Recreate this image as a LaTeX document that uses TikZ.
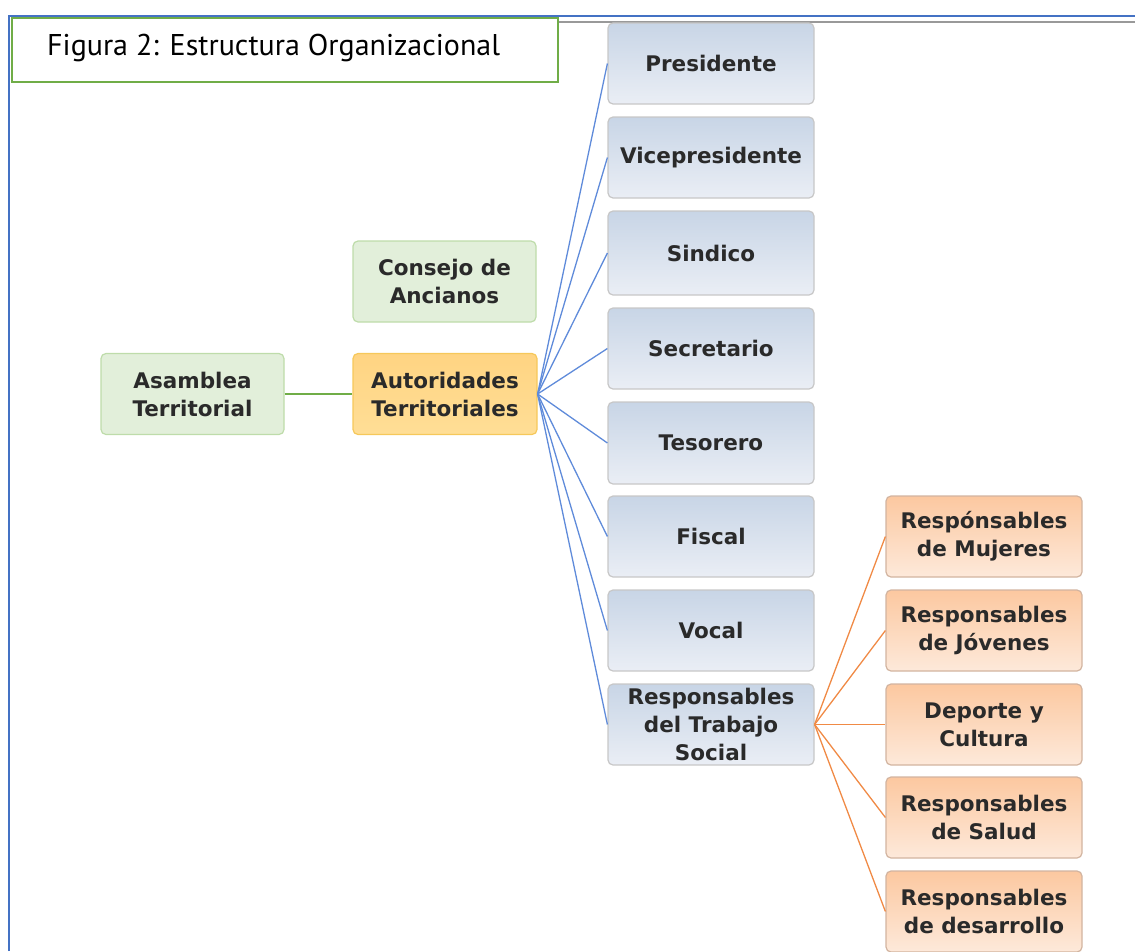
\documentclass[tikz,border=0pt]{standalone}
\usepackage{fontspec}
\setmainfont{DejaVu Sans}
\newfontfamily\titlefont{PT Sans}
\definecolor{frameblue}{HTML}{4472C4}
\definecolor{lineblue}{HTML}{5F8BDA}
\definecolor{linegreen}{HTML}{70AD47}
\definecolor{lineorange}{HTML}{F08A45}
\definecolor{txt}{HTML}{2A2A2A}
\begin{document}
\begin{tikzpicture}[x=1pt,y=-1pt,
  box/.style={rounded corners=5pt,line width=1.2pt,minimum width=#1,minimum height=81pt,
    align=center,inner sep=0pt,text=txt,font=\bfseries\fontsize{21.5}{28}\selectfont},
  bluebox/.style={box=206pt,draw=black!22,
    top color={rgb,255:red,200;green,213;blue,230},bottom color={rgb,255:red,234;green,238;blue,245}},
  orangebox/.style={box=196pt,draw={rgb,255:red,210;green,180;blue,160},
    top color={rgb,255:red,252;green,200;blue,160},bottom color={rgb,255:red,253;green,233;blue,218}},
  greenbox/.style={box=183pt,draw={rgb,255:red,190;green,220;blue,170},fill={rgb,255:red,226;green,239;blue,218}},
  yellowbox/.style={box=184pt,draw={rgb,255:red,246;green,200;blue,90},
    top color={rgb,255:red,255;green,212;blue,130},bottom color={rgb,255:red,255;green,222;blue,150}},
  bl/.style={draw=lineblue,line width=1.3pt},
  ol/.style={draw=lineorange,line width=1.3pt},
  gl/.style={draw=linegreen,line width=1.6pt}]
\useasboundingbox (0,0) rectangle (1135,951);
% frame
\draw[frameblue,line width=2pt] (9,951) -- (9,16) -- (1135,16);
\draw[black!40,line width=1.5pt] (557,22) -- (1135,22);
% title
\node[draw=linegreen,line width=2pt,minimum width=546pt,minimum height=64pt,inner sep=0pt,fill=white] (title) at (284.5,49.5) {};
\node[anchor=west,inner sep=0pt,font=\titlefont\fontsize{30}{32}\selectfont] (titletext) at (47,48) {Figura 2: Estructura Organizacional};
% left nodes
\node[greenbox] (asam) at (192.5,394) {Asamblea\\Territorial};
\node[greenbox] (cons) at (444.5,281.5) {Consejo de\\Ancianos};
\node[yellowbox] (auto) at (445,394) {Autoridades\\Territoriales};
% blue column
\node[bluebox] (pres) at (711,63.5) {Presidente};
\node[bluebox] (vice) at (711,157.5) {Vicepresidente};
\node[bluebox,minimum height=84pt] (sind) at (711,253) {Sindico};
\node[bluebox] (secr) at (711,348.5) {Secretario};
\node[bluebox,minimum height=82pt] (teso) at (711,443) {Tesorero};
\node[bluebox] (fisc) at (711,536.5) {Fiscal};
\node[bluebox] (voca) at (711,630.5) {Vocal};
\node[bluebox] (resp) at (711,724.5) {Responsables\\del Trabajo\\Social};
% orange column
\node[orangebox] (muje) at (984,536.5) {Respónsables\\de Mujeres};
\node[orangebox] (jove) at (984,630.5) {Responsables\\de Jóvenes};
\node[orangebox] (depo) at (984,724.5) {Deporte y\\Cultura};
\node[orangebox] (salu) at (984,817.5) {Responsables\\de Salud};
\node[orangebox] (desa) at (984,911.5) {Responsables\\de desarrollo};
% connectors
\draw[gl] (asam.east) -- (auto.west);
\foreach \n in {pres,vice,sind,secr,teso,fisc,voca,resp} \draw[bl] (auto.east) -- (\n.west);
\foreach \n in {muje,jove,depo,salu,desa} \draw[ol] (resp.east) -- (\n.west);
\end{tikzpicture}
\end{document}
